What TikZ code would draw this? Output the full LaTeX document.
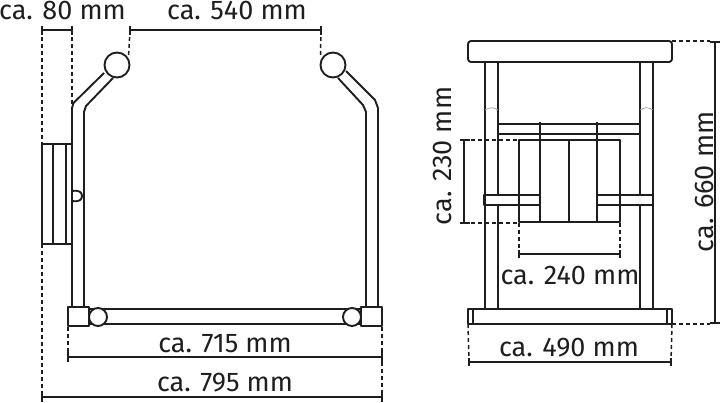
\documentclass[tikz,border=0pt]{standalone}
\usepackage{fontspec}
\setmainfont{Fira Sans}
\definecolor{ink}{HTML}{1E1E1E}
\tikzset{
  part/.style={draw=ink,line width=1.9pt,line join=round},
  filled/.style={part,fill=white},
  dim/.style={draw=ink,line width=1.7pt},
  tick/.style={draw=ink,line width=1.5pt},
  guide/.style={draw=ink,line width=1.5pt,dash pattern=on 4pt off 3pt},
  thin/.style={draw=ink!45,line width=.7pt},
  lbl/.style={text=ink,font=\fontsize{27}{30}\selectfont,inner sep=0pt,anchor=center}
}
\begin{document}
\begin{tikzpicture}[x=1pt,y=-1pt]
\useasboundingbox (0,0) rectangle (720,403);
% named anchors for dimensions
\coordinate (a42t) at (42,30);  \coordinate (a72t) at (72,30);
\coordinate (a130t) at (130,30); \coordinate (a321t) at (321,30);
\coordinate (a68) at (68,357); \coordinate (a382) at (382,357);
\coordinate (b42) at (42,397); \coordinate (b382) at (382,397);
\coordinate (h1) at (464,140); \coordinate (h2) at (464,223);
\coordinate (w1) at (519,254); \coordinate (w2) at (620,254);
\coordinate (s1) at (469,362); \coordinate (s2) at (671,362);
\coordinate (v1) at (715,42); \coordinate (v2) at (715,323);
% guides, left view
\draw[guide] (a42t) -- (42,144);
\draw[guide] (42,244) -- (b42);
\draw[guide] (a72t) -- (72,106);
\draw[guide] (a130t) -- (128.5,57);
\draw[guide] (a321t) -- (320.5,57);
\draw[guide] (68,327) -- (a68);
\draw[guide] (382,327) -- (b382);
% left view frame
\draw[part] (72,307) -- (72,108) -- (73.5,103) -- (104,73);
\draw[part] (84,307) -- (84,112) -- (86,106) -- (113,78);
\draw[part] (378,307) -- (378,108) -- (375,100) -- (346,71);
\draw[part] (366,307) -- (366,112) -- (363,105) -- (338,78);
\draw[part] (89,309) -- (361,309);
\draw[part] (89,324) -- (361,324);
\node[filled,circle,minimum size=25pt,inner sep=0pt] (ballL) at (117,65) {};
\node[filled,circle,minimum size=25pt,inner sep=0pt] (ballR) at (333,65) {};
\node[filled,minimum width=21pt,minimum height=19pt,inner sep=0pt] (footL) at (78.5,316.5) {};
\node[filled,minimum width=21pt,minimum height=19pt,inner sep=0pt] (footR) at (371.5,316.5) {};
\node[filled,circle,minimum size=18pt,inner sep=0pt] (jointL) at (98,317) {};
\node[filled,circle,minimum size=18pt,inner sep=0pt] (jointR) at (352,317) {};
% wall plate
\draw[part] (72,144) -- (42,144) -- (42,244) -- (72,244);
\draw[part] (53,144) -- (53,244);
\draw[part] (66,144) -- (66,244);
\draw[part] (72,191) .. controls (79,190) and (82,192) .. (82,196) .. controls (82,200) and (79,202) .. (72,201);
% dimensions, left view
\draw[dim] (a42t) -- (a72t);
\draw[tick] (42,26) -- (42,35); \draw[tick] (72,26) -- (72,35);
\draw[dim] (a130t) -- (a321t);
\draw[tick] (130,26) -- (130,35); \draw[tick] (321,26) -- (321,35);
\draw[dim] (a68) -- (a382);
\draw[tick] (68,352) -- (68,362); \draw[tick] (382,352) -- (382,362);
\draw[dim] (b42) -- (b382);
\draw[tick] (42,392) -- (42,402); \draw[tick] (382,392) -- (382,402);
% right view: legs
\draw[part] (485,62) -- (485,309); \draw[part] (498,62) -- (498,309);
\draw[part] (640,62) -- (640,309); \draw[part] (653,62) -- (653,309);
\draw[thin] (485,110) .. controls (490,107) and (493,107) .. (498,110);
\draw[thin] (640,110) .. controls (645,107) and (648,107) .. (653,110);
\draw[part] (498,124) -- (640,124);
\draw[part] (498,134) -- (640,134);
% guides, right view
\draw[guide] (h1) -- (519,140);
\draw[guide] (h2) -- (519,223);
\draw[guide] (519,223) -- (w1);
\draw[guide] (620,223) -- (w2);
\draw[guide] (468,324) -- (s1);
\draw[guide] (672,324) -- (s2);
\draw[guide] (672,41) -- (710,41);
\draw[guide] (672,324) -- (710,324);
% seat panel and arms
\draw[part] (484,195) rectangle (540,205);
\draw[part] (597,195) rectangle (653,205);
\path[fill=white] (486,196) rectangle (539,204);
\path[fill=white] (598,196) rectangle (652,204);
\draw[part] (519,140) rectangle (620,222);
\draw[part] (569,140) -- (569,222);
\draw[part] (540,122) -- (540,222);
\draw[part] (597,122) -- (597,222);
% seat top and base
\draw[filled,rounded corners=3pt] (468,41) rectangle (672,62);
\draw[filled] (468,309) rectangle (672,324);
\draw[part,line width=1.2pt] (473,309) -- (473,324);
\draw[part,line width=1.2pt] (667,309) -- (667,324);
% dimensions, right view
\draw[dim] (h1) -- (h2);
\draw[tick] (460,140) -- (470,140); \draw[tick] (460,223) -- (470,223);
\draw[dim] (w1) -- (w2);
\draw[tick] (519,250) -- (519,258); \draw[tick] (620,250) -- (620,258);
\draw[dim] (s1) -- (s2);
\draw[tick] (469,358) -- (469,366); \draw[tick] (671,358) -- (671,366);
\draw[dim] (v1) -- (v2);
\draw[tick] (710,42) -- (720,42); \draw[tick] (710,323) -- (720,323);
% labels
\node[lbl] (l80) at (62.5,10) {ca. 80 mm};
\node[lbl] (l540) at (237,10) {ca. 540 mm};
\node[lbl] (l715) at (225,344) {ca. 715 mm};
\node[lbl] (l795) at (225,383) {ca. 795 mm};
\node[lbl] (l240) at (570,275) {ca. 240 mm};
\node[lbl] (l490) at (569,348) {ca. 490 mm};
\node[lbl,rotate=90] (l230) at (442,156) {ca. 230 mm};
\node[lbl,rotate=90] (l660) at (704,182) {ca. 660 mm};
\end{tikzpicture}
\end{document}
